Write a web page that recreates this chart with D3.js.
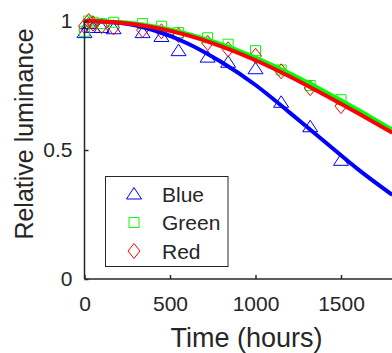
<!DOCTYPE html>
<html>
	<head>
		<title>Relative luminance</title>
		<meta charset="UTF-8">
		<style type="text/css">
			body { margin: 0; background: #fff; }
			text { font-family: "Liberation Sans", Arial, sans-serif; fill: #262626; }
		</style>
		<script src="https://d3js.org/d3.v7.min.js"></script>
	</head>
	<body>
		<script type="text/javascript">

			// measured points
			var times = [0, 25, 50, 100, 170, 340, 450, 550, 720, 840, 1000, 1150, 1320, 1500];
			var blue  = [0.955, 0.99, 0.975, 0.975, 0.97, 0.955, 0.94, 0.885, 0.86, 0.84, 0.815, 0.685, 0.59, 0.46];
			var green = [0.96, 1.0, 0.995, 0.99, 0.995, 0.99, 0.98, 0.955, 0.935, 0.91, 0.885, 0.81, 0.75, 0.695];
			var red   = [0.98, 1.0, 0.99, 0.98, 0.975, 0.965, 0.96, 0.945, 0.915, 0.89, 0.865, 0.805, 0.74, 0.67];

			// fitted curves
			var fitTimes = [0, 200, 400, 600, 800, 1000, 1200, 1400, 1600, 1800];
			var blueFit  = [1.0, 0.993, 0.965, 0.914, 0.841, 0.752, 0.645, 0.535, 0.425, 0.326];
			var greenFit = [1.0, 0.996, 0.98, 0.951, 0.91, 0.858, 0.797, 0.729, 0.656, 0.578];
			var redFit   = [1.0, 0.994, 0.976, 0.945, 0.902, 0.848, 0.785, 0.715, 0.642, 0.567];

			var xTicks = [0, 500, 1000, 1500];
			var yTicks = [0, 0.5, 1];
			var yTickLabels = ["0", "0.5", "1"];

			var series = [
				{name: "Blue", color: "#0000ff", pts: blue, fit: blueFit, shape: "tri"},
				{name: "Green", color: "#00ff00", pts: green, fit: greenFit, shape: "sq"},
				{name: "Red", color: "#ff0000", pts: red, fit: redFit, shape: "dia"}
			];

			var width = 392, height = 353;

			var x = d3.scaleLinear().domain([0, 1900]).range([84.5, 409.4]);
			var y = d3.scaleLinear().domain([0, 1]).range([279, 21]);

			var svg = d3.select("body")
				.append("svg")
					.attr("width", width)
					.attr("height", height);

			function markerPath(shape) {
				if (shape == "tri") return "M0,-6.5L7.5,5L-7.5,5Z";
				if (shape == "sq") return "M-5,-5L5,-5L5,5L-5,5Z";
				return "M0,-7.5L6,0L0,7.5L-6,0Z";
			}

			// markers first, the fits go on top
			series.forEach(function(s) {
				svg.append("g").selectAll("path")
					.data(times.map(function(t, i) { return [t, s.pts[i]]; }))
					.enter().append("path")
						.attr("d", markerPath(s.shape))
						.attr("transform", function(d) { return "translate(" + x(d[0]) + "," + y(d[1]) + ")"; })
						.attr("fill", "none")
						.attr("stroke", s.color)
						.attr("stroke-width", 1);
			});

			var line = d3.line()
				.x(function(d) { return x(d[0]); })
				.y(function(d) { return y(d[1]); })
				.curve(d3.curveMonotoneX);

			series.forEach(function(s) {
				svg.append("path")
					.attr("d", line(fitTimes.map(function(t, i) { return [t, s.fit[i]]; })))
					.attr("fill", "none")
					.attr("stroke", s.color)
					.attr("stroke-width", 4);
			});

			// axes (left + bottom only, ticks inward)
			var xAxis = d3.axisBottom(x).tickValues(xTicks).tickSize(-4).tickPadding(17).tickFormat(d3.format("d"));
			var yAxis = d3.axisLeft(y).tickValues(yTicks).tickSize(-4).tickPadding(12)
				.tickFormat(function(d, i) { return yTickLabels[i]; });

			var gx = svg.append("g")
				.attr("transform", "translate(0,279)")
				.call(xAxis);
			var gy = svg.append("g")
				.attr("transform", "translate(84.5,0)")
				.call(yAxis);

			[gx, gy].forEach(function(g) {
				g.select(".domain").attr("stroke", "#262626").attr("stroke-width", 1.5);
				g.selectAll(".tick line").attr("stroke", "#262626").attr("stroke-width", 1.5);
				g.selectAll(".tick text").attr("font-size", 21).attr("font-family", null).style("fill", "#262626");
			});
			gx.select(".domain").attr("d", "M84.5,0H" + width);
			gy.select(".domain").attr("d", "M0,279V21");
			gx.selectAll(".tick text").attr("dy", "0.71em");

			svg.append("text")
				.attr("x", 246.5)
				.attr("y", 347)
				.attr("text-anchor", "middle")
				.attr("font-size", 27)
				.text("Time (hours)");

			svg.append("text")
				.attr("transform", "translate(33,134) rotate(-90)")
				.attr("text-anchor", "middle")
				.attr("font-size", 25)
				.text("Relative luminance");

			// legend
			var legend = svg.append("g");
			legend.append("rect")
				.attr("x", 105.5).attr("y", 176.5)
				.attr("width", 122.5).attr("height", 90)
				.attr("fill", "#fff")
				.attr("stroke", "#262626")
				.attr("stroke-width", 1);

			series.forEach(function(s, i) {
				var ly = 194 + i * 28.5;
				legend.append("path")
					.attr("d", markerPath(s.shape))
					.attr("transform", "translate(134," + ly + ")")
					.attr("fill", "none")
					.attr("stroke", s.color)
					.attr("stroke-width", 1);
				legend.append("text")
					.attr("x", 162)
					.attr("y", ly)
					.attr("dy", "0.36em")
					.attr("font-size", 21)
					.text(s.name);
			});

		</script>
	</body>
</html>
